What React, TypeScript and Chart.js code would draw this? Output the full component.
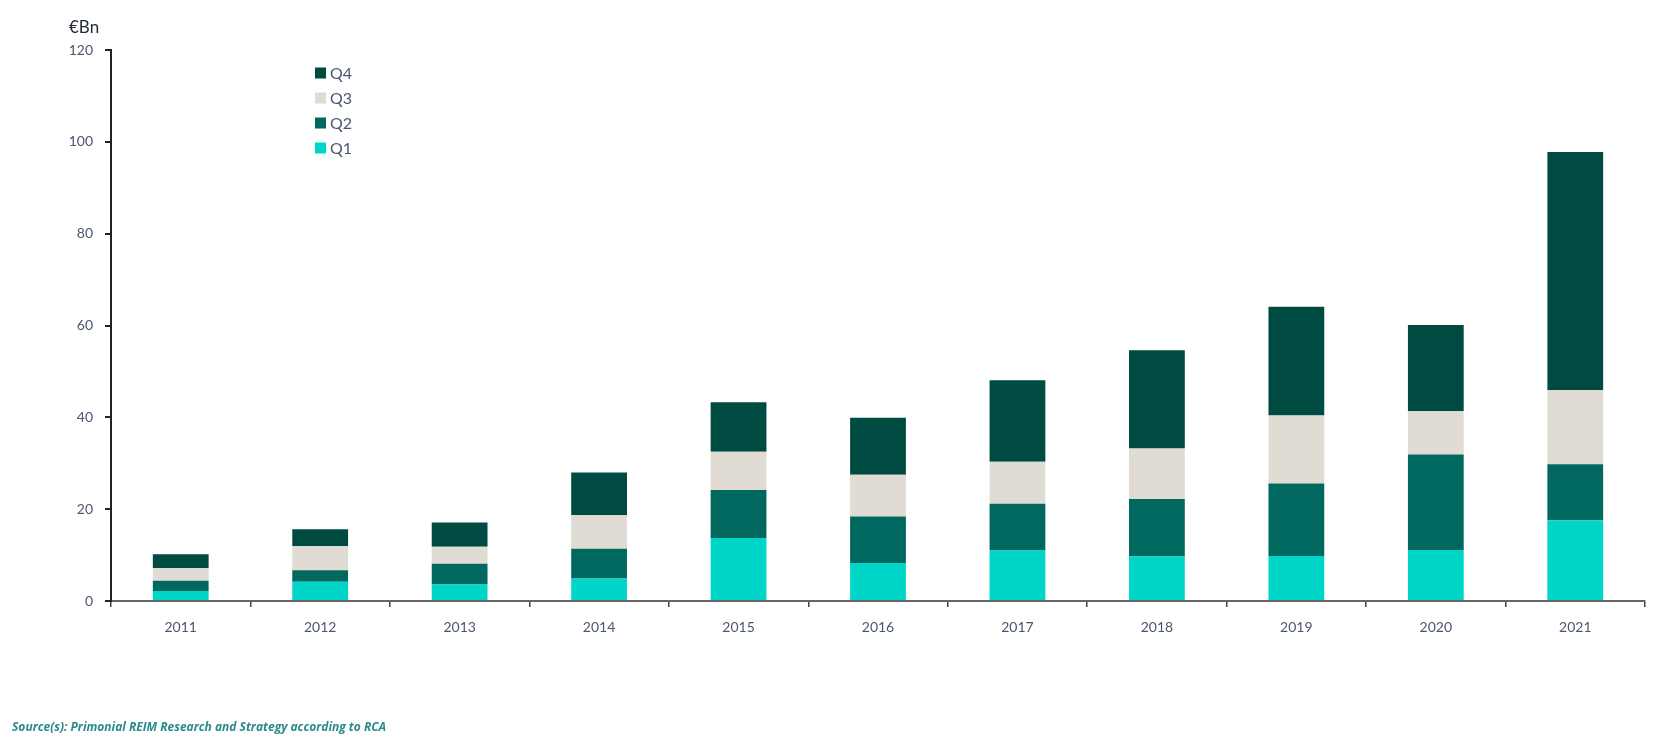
import React, { useEffect, useRef } from "react";
import { Chart, registerables } from "chart.js";

Chart.register(...registerables);

const years = ["2011", "2012", "2013", "2014", "2015", "2016", "2017", "2018", "2019", "2020", "2021"];
const q1 = [2.2, 4.2, 3.6, 4.9, 13.7, 8.3, 11.0, 9.7, 9.8, 11.1, 17.6];
const q2 = [2.2, 2.5, 4.5, 6.5, 10.5, 10.1, 10.2, 12.5, 15.8, 20.8, 12.2];
const q3 = [2.8, 5.2, 3.7, 7.3, 8.3, 9.1, 9.1, 11.0, 14.8, 9.4, 16.1];
const q4 = [3.0, 3.7, 5.3, 9.3, 10.8, 12.4, 17.8, 21.4, 23.7, 18.8, 51.9];
const seriesLabels = ["Q1", "Q2", "Q3", "Q4"];
const seriesColors = ["#00D6C8", "#00685E", "#E0DCD4", "#004B41"];
const yTicks = [0, 20, 40, 60, 80, 100, 120];
const unitLabel = "€Bn";
const sourceText = "Source(s): Primonial REIM Research and Strategy according to RCA";

const W = 1678;
const H = 748;
const FONT = "Lato, 'Open Sans', sans-serif";

const legendPlugin = {
  id: "customLegend",
  afterDraw(chart: any) {
    const ctx = chart.ctx;
    const ds = chart.data.datasets.slice().reverse();
    ctx.save();
    ctx.font = `16px ${FONT}`;
    ctx.textBaseline = "middle";
    ctx.textAlign = "left";
    ds.forEach((d: any, i: number) => {
      const cy = 73 + i * 25;
      ctx.fillStyle = d.backgroundColor;
      ctx.fillRect(315, cy - 5.5, 11, 11);
      ctx.fillStyle = "#4a5670";
      ctx.fillText(d.label, 330, cy + 1);
    });
    ctx.restore();
  },
};

export default function App() {
  const ref = useRef<HTMLCanvasElement | null>(null);

  useEffect(() => {
    if (!ref.current) return;
    const data = [q1, q2, q3, q4];
    const chart = new Chart(ref.current, {
      type: "bar",
      data: {
        labels: years,
        datasets: data.map((vals, i) => ({
          label: seriesLabels[i],
          data: vals,
          backgroundColor: seriesColors[i],
          borderWidth: 0,
          categoryPercentage: 1,
          barPercentage: 0.4,
        })),
      },
      options: {
        responsive: false,
        animation: false,
        maintainAspectRatio: false,
        layout: { padding: { left: 0, right: W - 1645, top: 50, bottom: 0 } },
        plugins: {
          legend: { display: false },
          tooltip: { enabled: false },
        },
        scales: {
          x: {
            stacked: true,
            afterFit: (s: any) => {
              s.height = H - 601;
            },
            grid: {
              offset: true,
              drawOnChartArea: false,
              drawTicks: true,
              tickLength: 6,
              color: "#444",
              lineWidth: 1.5,
            },
            border: { display: true, color: "#666", width: 2 },
            ticks: {
              color: "#4a5670",
              font: { family: FONT, size: 14 },
              padding: 12,
            },
          },
          y: {
            stacked: true,
            min: 0,
            max: 120,
            afterFit: (s: any) => {
              s.width = 111;
            },
            afterBuildTicks: (s: any) => {
              s.ticks = yTicks.map((v) => ({ value: v }));
            },
            grid: {
              drawOnChartArea: false,
              drawTicks: true,
              tickLength: 6,
              color: "#222",
              lineWidth: 2,
            },
            border: { display: true, color: "#222", width: 2 },
            ticks: {
              color: "#4a5670",
              font: { family: FONT, size: 14 },
              padding: 12,
            },
          },
        },
      },
      plugins: [legendPlugin],
    });
    return () => chart.destroy();
  }, []);

  return (
    <div style={{ position: "fixed", left: 0, top: 0, width: W, height: H, background: "#fff" }}>
      <canvas ref={ref} width={W} height={H} style={{ position: "absolute", left: 0, top: 0, width: W, height: H }} />
      <div
        style={{
          position: "absolute",
          left: 69,
          top: 16,
          fontFamily: FONT,
          fontSize: 17,
          color: "#1e2a36",
        }}
      >
        {unitLabel}
      </div>
      <div
        style={{
          position: "absolute",
          left: 12,
          top: 718,
          fontFamily: "'Open Sans', sans-serif",
          fontSize: 12,
          fontWeight: 700,
          fontStyle: "italic",
          color: "#2a8a8c",
        }}
      >
        {sourceText}
      </div>
    </div>
  );
}
